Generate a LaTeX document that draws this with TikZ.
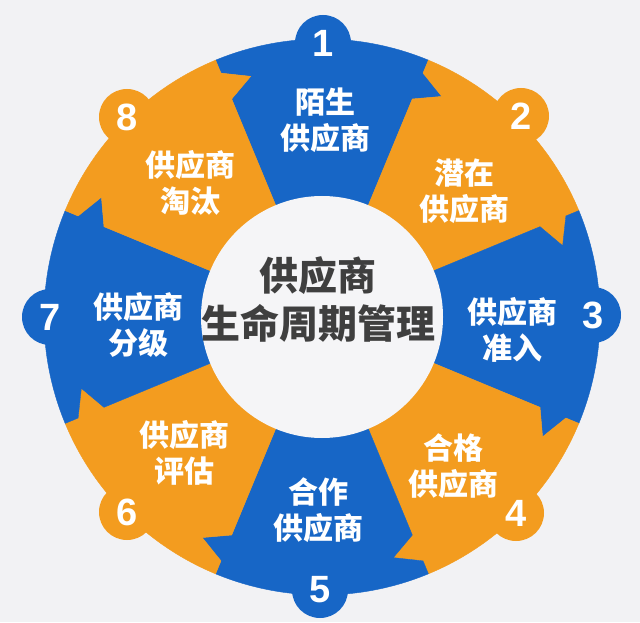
\documentclass[tikz,border=0pt]{standalone}
\usepackage{fontspec}
\setmainfont{Liberation Sans}
\newfontfamily\cjk{Noto Sans CJK SC}
\usetikzlibrary{calc}
\definecolor{bg}{HTML}{F2F2F4}
\definecolor{segblue}{HTML}{1766C6}
\definecolor{segorange}{HTML}{F39C1F}
\definecolor{hubfill}{HTML}{F5F5F7}
\definecolor{hubtext}{HTML}{3F3F3F}
\tikzset{
  numtxt/.style={text=white,font=\bfseries\fontsize{38}{38}\selectfont,inner sep=0pt},
  lbl/.style={text=white,align=center,font=\cjk\bfseries\fontsize{30}{36}\selectfont,inner sep=0pt},
  hubtxt/.style={text=hubtext,align=center,font=\cjk\bfseries\fontsize{39}{48}\selectfont,inner sep=0pt},
  hub/.style={circle,fill=hubfill,minimum size=242pt,inner sep=0pt}
}
\newcommand\ringpiece[2]{%
  \pgfmathsetmacro\aS{#1+22.5}\pgfmathsetmacro\aE{#1-22.5}%
  \pgfmathsetmacro\aSt{\aS-6}\pgfmathsetmacro\aEt{\aE-6}%
  \fill[#2,draw=#2,line width=0.4pt,shift={(C)}] (\aS:120) -- (\aS:236) -- (\aSt:251) -- (\aS:264) -- (\aS:278)
    arc[start angle=\aS,end angle=\aE,radius=278] -- (\aE:264) -- (\aEt:251) -- (\aE:236) -- (\aE:120)
    arc[start angle=\aE,end angle=\aS,radius=120] -- cycle;
}
\begin{document}
\begin{tikzpicture}[x=1pt,y=1pt]
\fill[bg] (0,0) rectangle (640,622);
\useasboundingbox (0,0) rectangle (640,622);
\coordinate (C) at (322,305);
% ring pieces
\ringpiece{90}{segblue}
\ringpiece{45}{segorange}
\ringpiece{0}{segblue}
\ringpiece{-45}{segorange}
\ringpiece{-90}{segblue}
\ringpiece{-135}{segorange}
\ringpiece{180}{segblue}
\ringpiece{135}{segorange}
% number tabs
\coordinate (t1) at (323,579);
\coordinate (t2) at (521,506);
\coordinate (t3) at (593,307);
\coordinate (t4) at (516,109);
\coordinate (t5) at (320,32);
\coordinate (t6) at (127,110);
\coordinate (t7) at (50,305);
\coordinate (t8) at (127,505);
\fill[segblue] (t1) circle[radius=28];
\fill[segorange] (t2) circle[radius=28];
\fill[segblue] (t3) circle[radius=28];
\fill[segorange] (t4) circle[radius=28];
\fill[segblue] (t5) circle[radius=28];
\fill[segorange] (t6) circle[radius=28];
\fill[segblue] (t7) circle[radius=28];
\fill[segorange] (t8) circle[radius=28];
\node[numtxt] (n1) at (t1) {1};
\node[numtxt] (n2) at (t2) {2};
\node[numtxt] (n3) at (t3) {3};
\node[numtxt] (n4) at (t4) {4};
\node[numtxt] (n5) at (t5) {5};
\node[numtxt] (n6) at (t6) {6};
\node[numtxt] (n7) at (t7) {7};
\node[numtxt] (n8) at (t8) {8};
% labels
\node[lbl] (l1) at (325,502) {陌生\\供应商};
\node[lbl] (l2) at (464,431) {潜在\\供应商};
\node[lbl] (l3) at (512,292) {供应商\\准入};
\node[lbl] (l4) at (453,156) {合格\\供应商};
\node[lbl] (l5) at (318,112) {合作\\供应商};
\node[lbl] (l6) at (184,169) {供应商\\评估};
\node[lbl] (l7) at (138,297) {供应商\\分级};
\node[lbl] (l8) at (190,439) {供应商\\淘汰};
% hub
\node[hub] (hub) at (C) {};
\node[hubtxt] (title) at (318,323) {供应商\\生命周期管理};
\end{tikzpicture}
\end{document}
